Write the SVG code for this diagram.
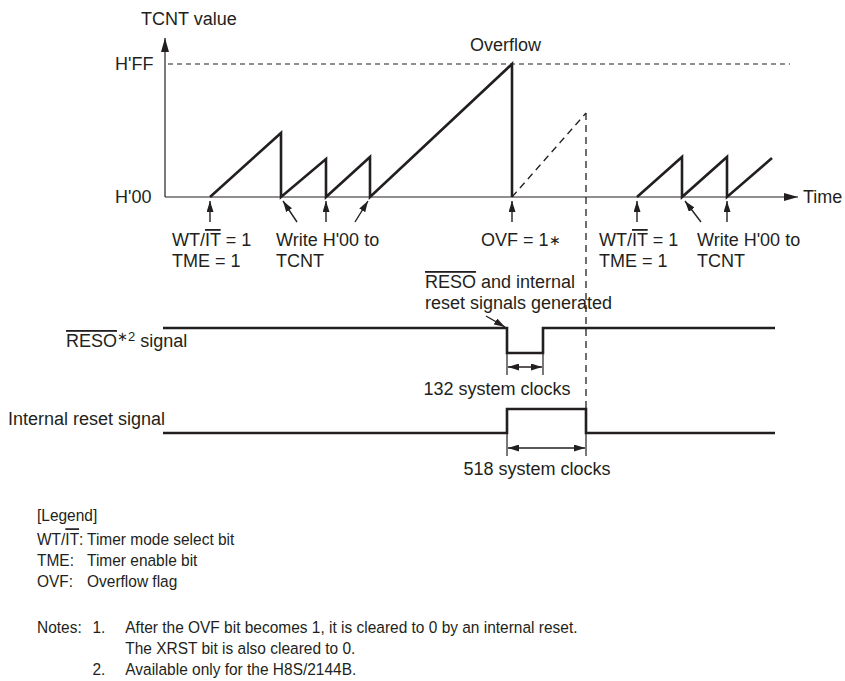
<svg xmlns="http://www.w3.org/2000/svg" width="845" height="681" viewBox="0 0 845 681">
<style>
  text { font-family: "Liberation Sans", Arial, Helvetica, sans-serif; font-size: 18px; fill: #231f20; }
  .lg { font-size: 17px; }
  .ol { text-decoration: overline; }
  .thick { fill: none; stroke: #231f20; stroke-width: 2.6; stroke-linejoin: miter; }
  .thin { fill: none; stroke: #231f20; stroke-width: 1.2; }
  .dash { fill: none; stroke: #231f20; stroke-width: 1.2; stroke-dasharray: 5 4; }
  .dash2 { fill: none; stroke: #231f20; stroke-width: 1.3; stroke-dasharray: 7 5; }
  .arr { fill: none; stroke: #231f20; stroke-width: 1.4; marker-end: url(#ah); }
  .dim { fill: none; stroke: #231f20; stroke-width: 1.4; marker-start: url(#ah); marker-end: url(#ah); }
</style>
<defs>
  <marker id="ah" markerUnits="userSpaceOnUse" markerWidth="11" markerHeight="7" refX="11" refY="3.5" orient="auto-start-reverse">
    <path d="M0,0 L11,3.5 L0,7 z" fill="#231f20"/>
  </marker>
  <marker id="axh" markerUnits="userSpaceOnUse" markerWidth="14" markerHeight="8" refX="14" refY="4" orient="auto">
    <path d="M0,0 L14,4 L0,8 z" fill="#231f20"/>
  </marker>
</defs>
<rect width="845" height="681" fill="#ffffff"/>

<g id="axes">
  <line x1="165" y1="197" x2="165" y2="38" class="thin" marker-end="url(#axh)"/>
  <line x1="165" y1="197" x2="798" y2="197" class="thin" marker-end="url(#axh)"/>
  <line x1="168" y1="64" x2="790" y2="64" class="dash"/>
  <text x="141" y="25">TCNT value</text>
  <text x="115" y="70">H'FF</text>
  <text x="115" y="203">H'00</text>
  <text x="803" y="203">Time</text>
  <text x="470" y="51">Overflow</text>
</g>

<g id="tcnt-waveform">
  <polyline class="thick" points="210,197 281,133 281,197 326,159 326,197 370,157 370,197 512,64 512,197"/>
  <polyline class="thick" points="637,197 682,157 682,197 727,157 727,197 772,158"/>
  <line x1="512" y1="197" x2="586" y2="113" class="dash2"/>
  <line x1="586" y1="113" x2="586" y2="409" class="dash2"/>
</g>

<g id="label-wt-tme-1">
  <text x="172" y="246">WT/<tspan class="ol">IT</tspan> = 1</text>
  <text x="172" y="267">TME = 1</text>
</g>
<g id="label-write-1">
  <text x="276" y="246">Write H'00 to</text>
  <text x="276" y="267">TCNT</text>
</g>
<g id="label-ovf">
  <text x="481" y="246">OVF = 1<tspan font-size="14" dy="-1">∗</tspan></text>
</g>
<g id="label-wt-tme-2">
  <text x="599" y="246">WT/<tspan class="ol">IT</tspan> = 1</text>
  <text x="599" y="267">TME = 1</text>
</g>
<g id="label-write-2">
  <text x="697" y="246">Write H'00 to</text>
  <text x="697" y="267">TCNT</text>
</g>
<g id="label-reso-generated">
  <text x="425" y="288"><tspan class="ol">RESO</tspan> and internal</text>
  <text x="425" y="309">reset signals generated</text>
</g>

<g id="reso-signal">
  <text x="66" y="347"><tspan class="ol">RESO</tspan><tspan font-size="13" dy="-6">∗2</tspan><tspan dy="6"> signal</tspan></text>
  <polyline class="thick" points="163,328 507,328 507,353 543,353 543,328 775,328"/>
  <line x1="507" y1="353" x2="507" y2="375" class="thin"/>
  <line x1="543" y1="353" x2="543" y2="375" class="thin"/>
  <text x="497" y="395" text-anchor="middle">132 system clocks</text>
</g>

<g id="internal-reset-signal">
  <text x="8" y="425">Internal reset signal</text>
  <polyline class="thick" points="163,433 507,433 507,409 586,409 586,433 775,433"/>
  <line x1="507" y1="433" x2="507" y2="456" class="thin"/>
  <line x1="586" y1="433" x2="586" y2="456" class="thin"/>
  <text x="537" y="475" text-anchor="middle">518 system clocks</text>
</g>

<g id="connectors">
  <line x1="210" y1="222" x2="210" y2="201" class="arr"/>
  <line x1="297" y1="222" x2="283" y2="201" class="arr"/>
  <line x1="326" y1="222" x2="326" y2="201" class="arr"/>
  <line x1="355" y1="222" x2="368" y2="201" class="arr"/>
  <line x1="512" y1="222" x2="512" y2="201" class="arr"/>
  <line x1="637" y1="222" x2="637" y2="201" class="arr"/>
  <line x1="701" y1="222" x2="685" y2="201" class="arr"/>
  <line x1="727" y1="222" x2="727" y2="201" class="arr"/>
  <line x1="486" y1="316" x2="505" y2="327" class="arr"/>
  <line x1="508" y1="367" x2="542" y2="367" class="dim"/>
  <line x1="508" y1="448" x2="585" y2="448" class="dim"/>
</g>

<g id="legend" transform="translate(37,0) scale(0.91,1) translate(-37,0)">
  <text class="lg" x="37" y="521">[Legend]</text>
  <text class="lg" x="37" y="545">WT/<tspan class="ol">IT</tspan>:</text>
  <text class="lg" x="92" y="545">Timer mode select bit</text>
  <text class="lg" x="37" y="566">TME:</text>
  <text class="lg" x="92" y="566">Timer enable bit</text>
  <text class="lg" x="37" y="587">OVF:</text>
  <text class="lg" x="92" y="587">Overflow flag</text>
</g>

<g id="notes" transform="translate(37,0) scale(0.91,1) translate(-37,0)">
  <text class="lg" x="37" y="633">Notes:</text>
  <text class="lg" x="98" y="633">1.</text>
  <text class="lg" x="134" y="633">After the OVF bit becomes 1, it is cleared to 0 by an internal reset.</text>
  <text class="lg" x="134" y="654">The XRST bit is also cleared to 0.</text>
  <text class="lg" x="98" y="675">2.</text>
  <text class="lg" x="134" y="675">Available only for the H8S/2144B.</text>
</g>
</svg>
